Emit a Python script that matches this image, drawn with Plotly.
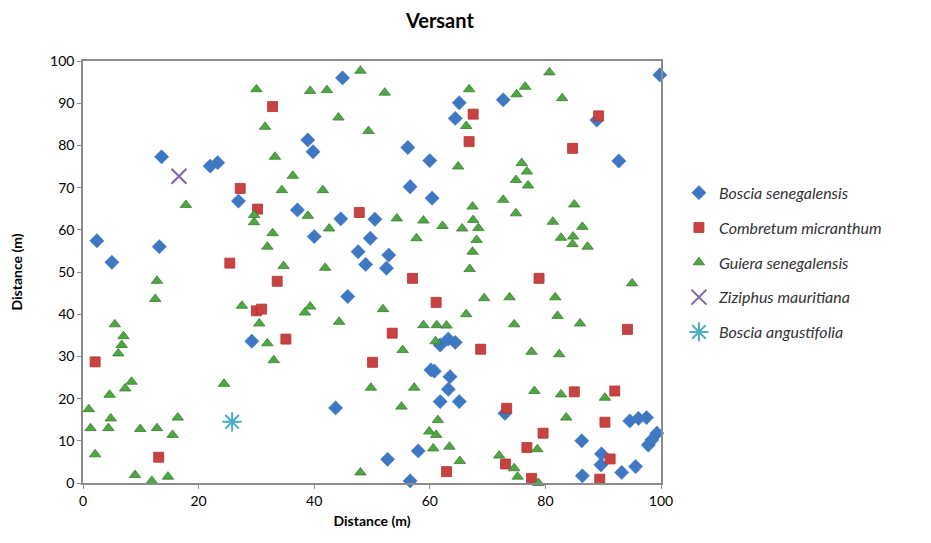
import plotly.graph_objects as go

# Tree positions along the slope plot (metres)
boscia_sen_x = [2.4, 5.0, 13.6, 13.2, 22.0, 23.3, 26.9, 29.2, 37.1, 38.9, 39.8, 40.0, 44.6, 44.9,
                45.8, 47.6, 48.9, 49.7, 50.5, 52.5, 52.9, 56.2, 56.6, 60.0, 60.4, 64.4, 65.1, 72.7,
                88.9, 92.7, 99.8, 43.7, 52.7, 56.6, 58.0, 60.2, 60.8, 61.8, 63.2, 64.4, 63.5, 63.2,
                61.8, 65.1, 73.0, 86.3, 86.4, 89.7, 89.6, 93.2, 95.6, 94.6, 96.1, 97.5, 97.8, 98.4, 99.3]
boscia_sen_y = [57.4, 52.3, 77.3, 56.0, 75.1, 75.9, 66.8, 33.6, 64.7, 81.3, 78.5, 58.4, 62.6, 96.0,
                44.2, 54.8, 51.8, 58.0, 62.5, 50.9, 54.0, 79.5, 70.2, 76.4, 67.5, 86.4, 90.1, 90.8,
                86.0, 76.3, 96.7, 17.8, 5.6, 0.5, 7.6, 26.8, 26.5, 32.7, 34.1, 33.3, 25.2, 22.2,
                19.3, 19.3, 16.5, 10.0, 1.7, 6.9, 4.3, 2.5, 3.9, 14.7, 15.3, 15.5, 9.0, 10.2, 11.8]

combretum_x = [2.1, 13.1, 25.4, 27.2, 30.2, 30.0, 30.9, 32.8, 33.6, 35.1, 47.8, 50.1, 53.5, 57.0,
               61.1, 62.9, 66.8, 67.5, 68.8, 73.3, 73.1, 76.8, 77.6, 78.9, 79.6, 84.7, 85.0, 89.2,
               89.4, 90.3, 91.2, 92.0, 94.2]
combretum_y = [28.7, 6.1, 52.1, 69.8, 64.9, 40.8, 41.2, 89.2, 47.8, 34.1, 64.1, 28.6, 35.5, 48.5,
               42.8, 2.7, 80.9, 87.4, 31.7, 17.7, 4.5, 8.4, 1.1, 48.5, 11.8, 79.3, 21.6, 87.0,
               0.9, 14.4, 5.7, 21.8, 36.4]

guiera_x = [12.8, 12.5, 5.5, 7.0, 6.7, 6.1, 8.4, 7.3, 4.6, 1.0, 4.8, 4.4, 1.3, 9.9, 12.8, 16.4,
            15.5, 2.1, 9.0, 11.9, 14.7, 24.4, 27.5, 30.5, 31.9, 33.0,
            30.0, 31.5, 33.2, 17.8, 29.6, 29.6, 32.8, 31.9,
            48.0, 39.3, 42.2, 52.2, 44.2, 49.4, 66.3, 36.3, 34.4, 41.5, 38.9, 42.6, 54.3, 58.9,
            62.2, 65.6, 64.9, 57.7, 34.7, 41.9,
            80.7, 76.5, 75.0, 66.8, 82.9, 75.9, 76.8, 74.9, 77.0, 72.7, 74.9, 67.4, 67.5, 68.4,
            68.1, 67.4, 66.9, 85.0, 81.3, 86.4, 82.7, 84.8, 84.7, 87.3,
            39.3, 38.4, 44.3, 51.9, 66.3, 58.9, 61.2, 62.9, 61.0, 55.3, 49.8, 57.3, 55.1, 61.4,
            59.9, 61.1, 60.6, 63.4, 65.2, 48.0,
            95.0, 69.4, 73.8, 81.7, 74.6, 82.1, 86.0, 77.6, 82.4, 78.1, 82.7, 90.3, 83.6, 78.6,
            72.0, 74.6, 75.2, 78.8]
guiera_y = [47.9, 43.6, 37.6, 34.8, 32.7, 30.7, 24.0, 22.4, 20.9, 17.5, 15.3, 13.0, 13.0, 12.8, 13.0, 15.5,
            11.4, 6.8, 1.9, 0.5, 1.5, 23.5, 42.0, 37.8, 33.1, 29.1,
            93.3, 84.4, 77.3, 65.9, 63.5, 61.8, 59.2, 56.0,
            97.7, 92.9, 93.1, 92.5, 86.6, 83.4, 84.6, 72.8, 69.4, 69.4, 63.3, 60.3, 62.7, 62.2,
            60.9, 60.3, 75.0, 58.0, 51.4, 51.0,
            97.3, 93.9, 92.1, 93.3, 91.2, 75.8, 73.8, 71.8, 70.5, 67.1, 63.9, 65.5, 62.3, 60.4,
            57.6, 54.8, 50.7, 66.0, 61.9, 60.7, 58.1, 58.4, 56.6, 56.0,
            41.8, 40.4, 38.2, 41.2, 40.0, 37.4, 37.4, 37.3, 33.6, 31.5, 22.6, 22.6, 18.1, 14.9,
            12.2, 11.4, 8.2, 8.6, 5.2, 2.5,
            47.3, 43.8, 44.0, 44.0, 37.6, 39.6, 37.8, 31.1, 30.5, 21.8, 21.0, 20.2, 15.5, 8.0,
            6.5, 3.5, 1.5, 0.0]

ziziphus_x = [16.6]
ziziphus_y = [72.7]

boscia_ang_x = [25.8]
boscia_ang_y = [14.5]

FONT = "Lato, 'Open Sans', sans-serif"

fig = go.Figure()

species = [
    ("Boscia senegalensis", boscia_sen_x, boscia_sen_y,
     dict(symbol="diamond", size=11, color="#3F78C2", line=dict(color="#3F78C2", width=0.5))),
    ("Combretum micranthum", combretum_x, combretum_y,
     dict(symbol="square", size=10, color="#C94242", line=dict(color="#B03535", width=0.8))),
    ("Guiera senegalensis", guiera_x, guiera_y,
     dict(symbol="triangle-up", size=10, color="#4FA743", line=dict(color="#3A7F30", width=0.8))),
    ("Ziziphus mauritiana", ziziphus_x, ziziphus_y,
     dict(symbol="x-thin", size=15, color="#8064A2", line=dict(color="#8064A2", width=2))),
    ("Boscia angustifolia", boscia_ang_x, boscia_ang_y,
     dict(symbol="asterisk", size=16, color="#4BACC6", line=dict(color="#4BACC6", width=2))),
]

for name, xs, ys, marker in species:
    fig.add_trace(go.Scatter(
        x=xs, y=ys, mode="markers", name=f"<i>{name}</i>",
        legendgroup=name, marker=marker, cliponaxis=False,
    ))

axis_common = dict(
    range=[0, 100], showgrid=False, zeroline=False,
    showline=True, mirror=True, linecolor="#8C8C8C", linewidth=1.5,
    ticks="outside", ticklen=4, tickcolor="#8C8C8C",
    tickfont=dict(family=FONT, size=14, color="#000000"),
)

fig.update_layout(
    width=931, height=543,
    margin=dict(l=83, r=270, t=61, b=60),
    paper_bgcolor="white", plot_bgcolor="white",
    title=dict(text="<b>Versant</b>", x=0.4725, xanchor="center", y=0.962, yanchor="middle",
               font=dict(family=FONT, size=20, color="#000000")),
    xaxis=dict(axis_common, dtick=20,
               title=dict(text="<b>Distance (m)</b>", standoff=9,
                          font=dict(family=FONT, size=14, color="#000000"))),
    yaxis=dict(axis_common, dtick=10,
               title=dict(text="<b>Distance (m)</b>", standoff=24,
                          font=dict(family=FONT, size=14, color="#000000"))),
    legend=dict(x=1.031, xanchor="left", y=0.728, yanchor="top",
                font=dict(family=FONT, size=16, color="#333333"),
                tracegroupgap=11, itemsizing="trace", itemwidth=30,
                bgcolor="rgba(0,0,0,0)"),
    showlegend=True,
)

fig.write_html("out.html")
